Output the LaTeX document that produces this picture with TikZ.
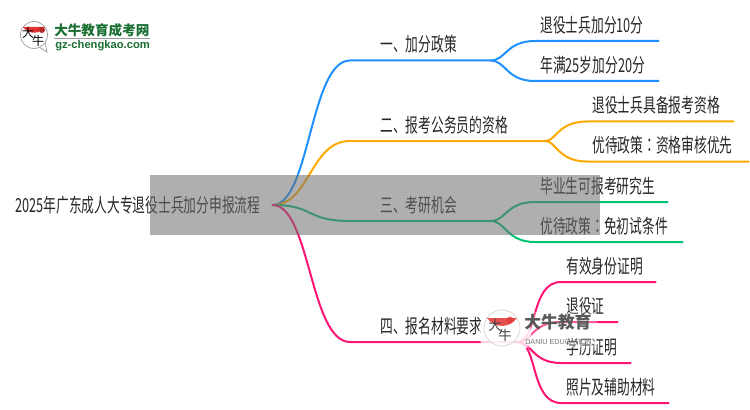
\documentclass[tikz,border=0pt]{standalone}
\usepackage{fontspec}
\setmainfont[FakeStretch=0.66]{Noto Sans CJK SC}
\newfontfamily\colonfont[FakeStretch=0.66]{Noto Sans CJK TC}
\newfontfamily\logofont{Noto Sans CJK SC}
\newfontfamily\latinbold{Liberation Sans}
\tikzset{
	leaf/.style={anchor=south west,inner xsep=3.75pt,inner ysep=0pt,minimum height=19.5pt,align=left,text height=10pt,text depth=3pt,font=\fontsize{14.5pt}{16pt}\selectfont,text=black!85},
	branch/.style={leaf,inner xsep=22.5pt},
	link/.style={line width=1.5pt,line cap=round},
}
\definecolor{blueline}{RGB}{30,144,255}
\definecolor{orangeline}{RGB}{255,170,0}
\definecolor{greenline}{RGB}{0,195,115}
\definecolor{pinkline}{RGB}{255,20,115}
\definecolor{logogreen}{RGB}{25,110,50}
\definecolor{logored}{RGB}{225,50,50}

\begin{document}
\begin{tikzpicture}[x=0.75pt,y=-0.75pt]
	\useasboundingbox (0,0) rectangle (750,410);
	\node (root) [anchor=west,inner sep=0pt,text width=192.75pt,font=\fontsize{14.5pt}{16pt}\selectfont,text=black!85] at (15,205) {2025年广东成人大专退役士兵加分申报流程};

	\node (b1) [branch,text width=60pt] at (350,60.5) {一、加分政策};
	\node (b2) [branch,text width=101.25pt] at (350,141) {二、报考公务员的资格};
	\node (b3) [branch,text width=60pt] at (350,221) {三、考研机会};
	\node (b4) [branch,text width=80.25pt] at (350,342) {四、报名材料要求};

	\node (l1) [leaf,text width=84.75pt] at (535,41) {退役士兵加分10分};
	\node (l2) [leaf,text width=84.75pt] at (535,81) {年满25岁加分20分};
	\node (l3) [leaf,text width=102pt] at (587,121.5) {退役士兵具备报考资格};
	\node (l4) [leaf,text width=113.25pt] at (587,161.5) {优待政策{\colonfont ：}资格审核优先};
	\node (l5) [leaf,text width=91.5pt] at (535,202) {毕业生可报考研究生};
	\node (l6) [leaf,text width=102.75pt] at (535,242) {优待政策{\colonfont ：}免初试条件};
	\node (l7) [leaf,text width=63pt] at (561,282) {有效身份证明};
	\node (l8) [leaf,text width=34.5pt] at (561,322) {退役证};
	\node (l9) [leaf,text width=44.25pt] at (561,363) {学历证明};
	\node (l10) [leaf,text width=72.75pt] at (561,403) {照片及辅助材料};

	\draw [link,blueline] (root.east) .. controls (310,205) and (310,60.5) .. (b1.south west) -- (b1.south east);
	\draw [link,blueline] (b1.south east) .. controls (506,60.5) and (506,41) .. (l1.south west) -- (l1.south east);
	\draw [link,blueline] (b1.south east) .. controls (506,60.5) and (506,81) .. (l2.south west) -- (l2.south east);

	\draw [link,orangeline] (root.east) .. controls (310,205) and (310,141) .. (b2.south west) -- (b2.south east);
	\draw [link,orangeline] (b2.south east) .. controls (556,141) and (558,121.5) .. (l3.south west) -- (l3.south east);
	\draw [link,orangeline] (b2.south east) .. controls (556,141) and (558,161.5) .. (l4.south west) -- (l4.south east);

	\draw [link,greenline] (root.east) .. controls (315,205) and (305,221) .. (b3.south west) -- (b3.south east);
	\draw [link,greenline] (b3.south east) .. controls (506,221) and (506,202) .. (l5.south west) -- (l5.south east);
	\draw [link,greenline] (b3.south east) .. controls (506,221) and (506,242) .. (l6.south west) -- (l6.south east);

	\draw [link,pinkline] (root.east) .. controls (310,205) and (310,342) .. (b4.south west) -- (b4.south east);
	\draw [link,pinkline] (b4.south east) .. controls (538,342) and (530,282) .. (l7.south west) -- (l7.south east);
	\draw [link,pinkline] (b4.south east) .. controls (532,342) and (532,322) .. (l8.south west) -- (l8.south east);
	\draw [link,pinkline] (b4.south east) .. controls (532,342) and (532,363) .. (l9.south west) -- (l9.south east);
	\draw [link,pinkline] (b4.south east) .. controls (538,342) and (530,403) .. (l10.south west) -- (l10.south east);

	\fill [black!57,opacity=.55] (150,175) rectangle (600,235);

	% logo top left
	\draw [black!35,fill=white,line width=.6pt] (39,47) -- (47,52) -- (45,42) -- cycle;
	\draw [black!35,fill=white,line width=.6pt] (34,35) circle (13.5);
	\fill [logored] (23,27) arc (145:35:13.5) -- cycle;
	\fill [logored!80!black] (42,30) circle (3);
	\node (logochar1) [inner sep=0pt,font=\fontsize{9pt}{9pt}\logofont] at (28,33) {大};
	\node (logochar2) [inner sep=0pt,font=\fontsize{9pt}{9pt}\logofont] at (38,41) {牛};
	\node (logotitle) [anchor=west,inner sep=0pt,text=logogreen,font=\fontsize{10.2pt}{11pt}\logofont\bfseries] at (54,30) {大牛教育成考网};
	\fill [black!40] (54,38) rectangle (150,39.5);
	\node (logosite) [anchor=west,inner sep=0pt,text=logogreen,font=\fontsize{8.4pt}{9pt}\latinbold\bfseries] at (55,45.5) {gz-chengkao.com};

	% logo over the fourth branch
	\fill [white,opacity=.8] (505,333) circle (26);
	\fill [white,opacity=.3] (525,312) rectangle (597,348);
	\draw [black!15,fill=white,fill opacity=.6,line width=.6pt] (502,328) circle (18);
	\fill [logored,opacity=.85] (487,318) arc (146:34:18) -- cycle;
	\fill [logored,opacity=.7] (510,320) circle (3.5);
	\node (markchar1) [inner sep=0pt,text=black!75,font=\fontsize{10pt}{10pt}\logofont] at (495,325) {大};
	\node (markchar2) [inner sep=0pt,text=black!75,font=\fontsize{10pt}{10pt}\logofont] at (505,335) {牛};
	\node (marktitle) [anchor=west,inner sep=0pt,text=black!65,font=\fontsize{12.6pt}{13pt}\logofont\bfseries] at (524,322) {大牛教育};
	\node (marksub) [anchor=west,inner sep=0pt,text=black!55,font=\fontsize{5.4pt}{6pt}\latinbold] at (525,342) {DANIU EDUCATION};
\end{tikzpicture}
\end{document}
